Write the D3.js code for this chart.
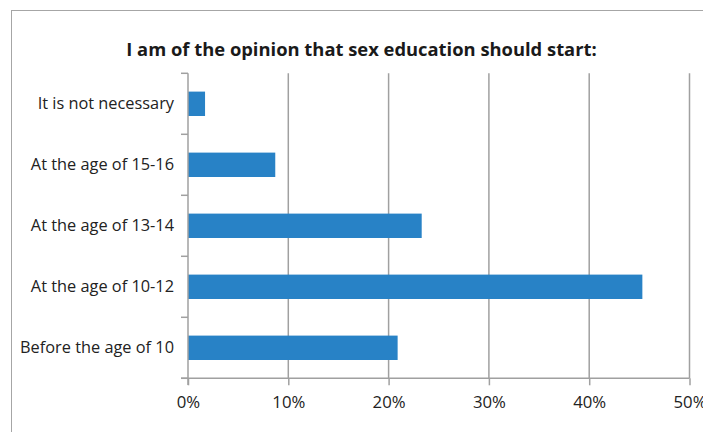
<!DOCTYPE html>
<html><head><meta charset="utf-8">
<script src="https://cdn.jsdelivr.net/npm/d3@7"></script>
<style>body{margin:0;background:#fff}svg{display:block}</style>
</head><body>
<script>
const categories = ["It is not necessary","At the age of 15-16","At the age of 13-14","At the age of 10-12","Before the age of 10"];
const values = [1.7, 8.7, 23.3, 45.3, 20.9];
const xTicks = [0,10,20,30,40,50];
const title = "I am of the opinion that sex education should start:";

const W=703,H=432;
const svg=d3.select("body").append("svg").attr("width",W).attr("height",H);
const font="'Open Sans', Lato, sans-serif";
function fit(sel, target, base){
  let maxw=0; sel.each(function(){maxw=Math.max(maxw,this.getComputedTextLength());});
  sel.attr("font-size", base*target/maxw);
}
svg.append("rect").attr("x",11.5).attr("y",10.5).attr("width",720).attr("height",440)
  .attr("fill","none").attr("stroke","#a6a6a6").attr("stroke-width",1);
const t=svg.append("text").attr("x",361.5).attr("y",55.5).attr("text-anchor","middle")
  .attr("font-family",font).attr("font-weight","bold").attr("font-size",16).attr("fill","#1a1a1a").text(title);
fit(t,471,16);

const x=d3.scaleLinear().domain([0,50]).range([188,689.5]);
const y=d3.scaleBand().domain(categories).range([73.3,378.3]).paddingInner(0.6).paddingOuter(0.3);
const gc="#a0a0a0";
svg.append("g").selectAll("line").data(xTicks.slice(1)).join("line")
  .attr("x1",d=>x(d)).attr("x2",d=>x(d)).attr("y1",73.3).attr("y2",378.3)
  .attr("stroke",gc).attr("stroke-width",1.5);
svg.append("g").selectAll("rect").data(categories).join("rect")
  .attr("x",x(0)).attr("y",d=>y(d)).attr("height",y.bandwidth())
  .attr("width",(d,i)=>x(values[i])-x(0)).attr("fill","#2882c6");
const xa=svg.append("g").attr("transform","translate(0,378.3)")
  .call(d3.axisBottom(x).tickValues(xTicks).tickFormat(d=>d+"%").tickSizeInner(7).tickSizeOuter(0).tickPadding(11));
xa.select(".domain").remove();
xa.append("line").attr("x1",181).attr("x2",689.5).attr("stroke",gc).attr("stroke-width",1.5);
xa.selectAll(".tick line").attr("stroke",gc).attr("stroke-width",1.5);
const xl=xa.selectAll("text").attr("font-family",font).attr("font-size",14).attr("fill","#222");
fit(xl,33,14);
const ya=svg.append("g").attr("transform","translate(188,0)");
ya.append("line").attr("y1",73.3).attr("y2",385).attr("stroke",gc).attr("stroke-width",1.5);
ya.selectAll(".yt").data(d3.range(categories.length+1)).join("line").attr("class","yt")
  .attr("x1",-7).attr("x2",0)
  .attr("y1",i=>y.range()[0]+i*y.step()).attr("y2",i=>y.range()[0]+i*y.step())
  .attr("stroke",gc).attr("stroke-width",1.5);
const yl=ya.selectAll("text").data(categories).join("text")
  .attr("x",-14).attr("y",d=>y(d)+y.bandwidth()/2).attr("dy","0.3em")
  .attr("text-anchor","end").attr("font-family",font).attr("font-size",14).attr("fill","#222").text(d=>d);
fit(yl,154,14);
</script>
</body></html>
